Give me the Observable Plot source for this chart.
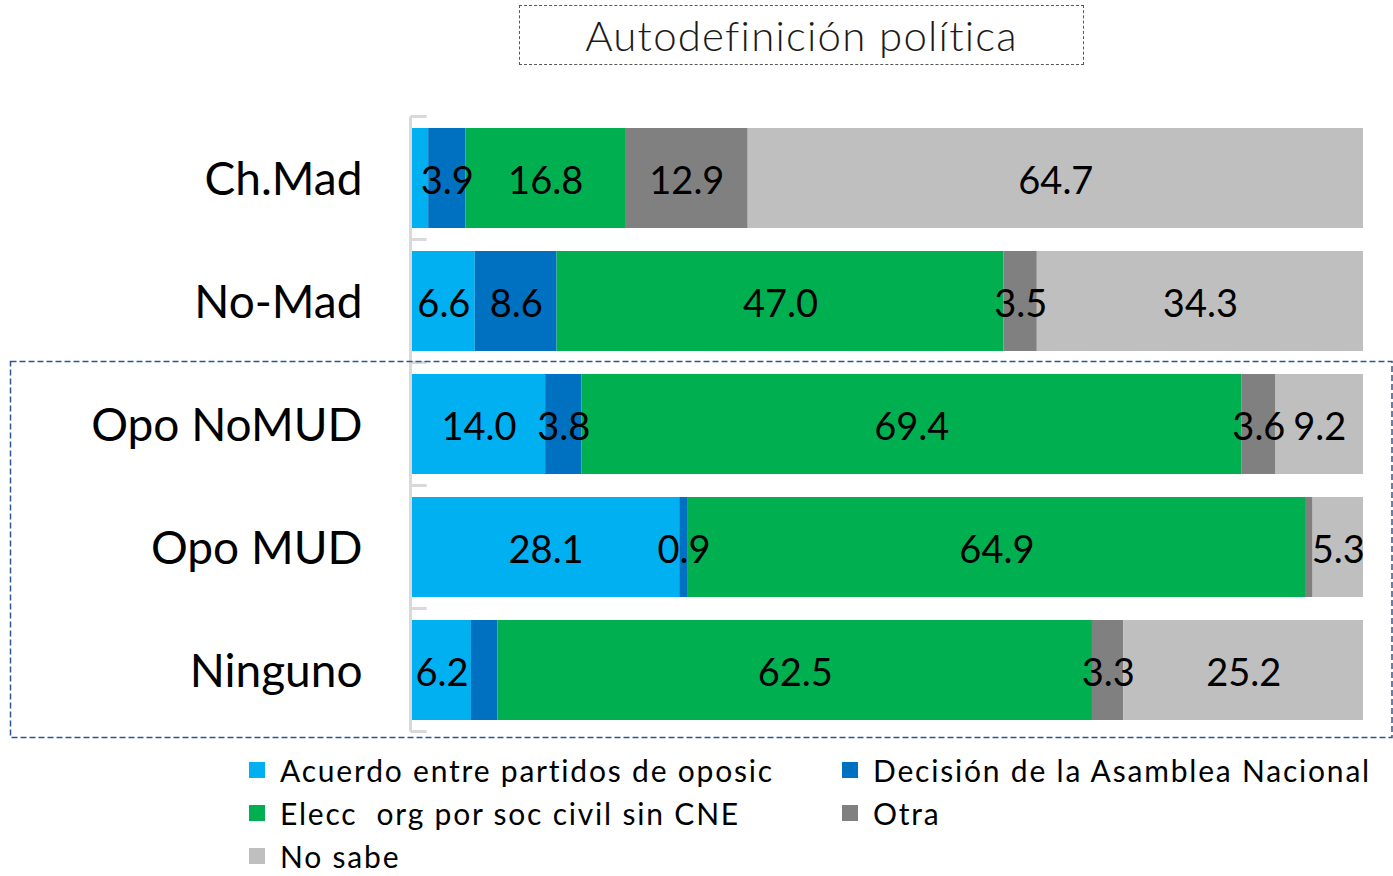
<!DOCTYPE html>
<html><head><meta charset="utf-8">
<script src="https://cdn.jsdelivr.net/npm/d3@7"></script>
<script src="https://cdn.jsdelivr.net/npm/@observablehq/plot@0.6"></script>
<style>
html,body{margin:0;padding:0;background:#fff;}
#wrap{position:relative;width:1393px;height:876px;overflow:hidden;font-family:Lato,"Open Sans",sans-serif;color:#000;}
#title{position:absolute;left:519px;top:5px;width:563px;height:58px;border:1.5px dashed #595959;box-sizing:content-box;
  display:flex;align-items:center;justify-content:center;font-size:42px;font-weight:300;color:#1a1a1a;letter-spacing:1.2px;}
#chart{position:absolute;left:0;top:90px;}
#legend{position:absolute;left:249px;top:755px;display:grid;grid-template-columns:593px auto;row-gap:13px;font-size:30px;letter-spacing:1.8px;color:#000;line-height:30px;}
.li{display:flex;align-items:center;height:30px;white-space:pre;}
.sw{width:16px;height:16px;margin-right:15px;flex:none;}
</style></head>
<body><div id="wrap">
<div id="title">Autodefinición política</div>
<div id="chart"></div>
<div id="legend"></div>
</div>
<script>
const categories = ["Ch.Mad","No-Mad","Opo NoMUD","Opo MUD","Ninguno"];
const seriesNames = ["Acuerdo entre partidos de oposic","Decisión de la Asamblea Nacional","Elecc  org por soc civil sin CNE","Otra","No sabe"];
const colors = ["#00B0F0","#0070C0","#00B050","#808080","#BFBFBF"];
// values per category, in series order
const acuerdo  = [1.7, 6.6, 14.0, 28.1, 6.2];
const decision = [3.9, 8.6, 3.8, 0.9, 2.8];
const elecc    = [16.8, 47.0, 69.4, 64.9, 62.5];
const otra     = [12.9, 3.5, 3.6, 0.8, 3.3];
const nosabe   = [64.7, 34.3, 9.2, 5.3, 25.2];
// which values carry a label in the original (1 = shown)
const shownAcuerdo  = [0,1,1,1,1];
const shownDecision = [1,1,1,1,0];
const shownElecc    = [1,1,1,1,1];
const shownOtra     = [1,1,1,0,1];
const shownNosabe   = [1,1,1,1,1];
const boxedCategories = ["Opo NoMUD","Opo MUD","Ninguno"];

const valueSets = [acuerdo, decision, elecc, otra, nosabe];
const shownSets = [shownAcuerdo, shownDecision, shownElecc, shownOtra, shownNosabe];
const data = [];
categories.forEach((c, i) => {
  seriesNames.forEach((s, j) => {
    data.push({cat: c, series: s, value: valueSets[j][i], shown: shownSets[j][i] === 1});
  });
});

const bwOf = y => (typeof y.bandwidth === "function" ? y.bandwidth() : y.bandwidth);

const plot = Plot.plot({
  width: 1393,
  height: 655,
  marginTop: 26,
  marginBottom: 14,
  marginLeft: 412,
  marginRight: 30,
  style: {fontFamily: "Lato, 'Open Sans', sans-serif", background: "#fff", color: "#000"},
  x: {domain: [0, 100], axis: null},
  y: {domain: categories, paddingInner: 0.187, paddingOuter: 0.0935, label: null},
  color: {domain: seriesNames, range: colors},
  marks: [
    // axis line and boundary ticks
    (index, scales, values, dims) => {
      const y = scales.y;
      const step = y(categories[1]) - y(categories[0]);
      const bw = bwOf(y);
      const g = d3.create("svg:g").attr("fill", "none");
      const x0 = dims.marginLeft - 1.5;
      const edges = categories.map(c => y(c) - (step - bw) / 2);
      edges.push(y(categories[categories.length - 1]) + bw + (step - bw) / 2);
      const ax = g.append("g").attr("stroke", "#D9D9D9").attr("stroke-width", 3);
      ax.append("line").attr("x1", x0).attr("x2", x0).attr("y1", edges[0]).attr("y2", edges[edges.length - 1]);
      edges.forEach(e => ax.append("line").attr("x1", x0).attr("x2", x0 + 16).attr("y1", e).attr("y2", e));
      // dashed frame around the boxed categories
      const top = y(boxedCategories[0]) - (step - bw) / 2 - 1;
      const bot = y(boxedCategories[boxedCategories.length - 1]) + bw + (step - bw) / 2 + 6;
      g.append("rect").attr("x", 10.5).attr("y", top).attr("width", 1392 - 10.5).attr("height", bot - top)
        .attr("stroke", "#2F5597").attr("stroke-width", 1.5).attr("stroke-dasharray", "6,3");
      return g.node();
    },
    Plot.barX(data, Plot.stackX({x: "value", y: "cat", z: "series", fill: "series", order: seriesNames, inset: 0})),
    Plot.text(data, Plot.stackX({
      x: "value", y: "cat", z: "series", order: seriesNames,
      text: d => d.shown ? d.value.toFixed(1) : null,
      fontSize: 38, fill: "#000", textAnchor: "middle", dy: 3
    })),
    Plot.axisY({tickSize: 0, tickPadding: 50, fontSize: 46, fill: "#000", dy: 2})
  ]
});
document.getElementById("chart").appendChild(plot);

// legend
const legend = document.getElementById("legend");
seriesNames.forEach((name, j) => {
  const it = document.createElement("div");
  it.className = "li";
  const sw = document.createElement("span");
  sw.className = "sw";
  sw.style.background = colors[j];
  it.appendChild(sw);
  it.appendChild(document.createTextNode(name));
  legend.appendChild(it);
});
</script>
</body></html>
